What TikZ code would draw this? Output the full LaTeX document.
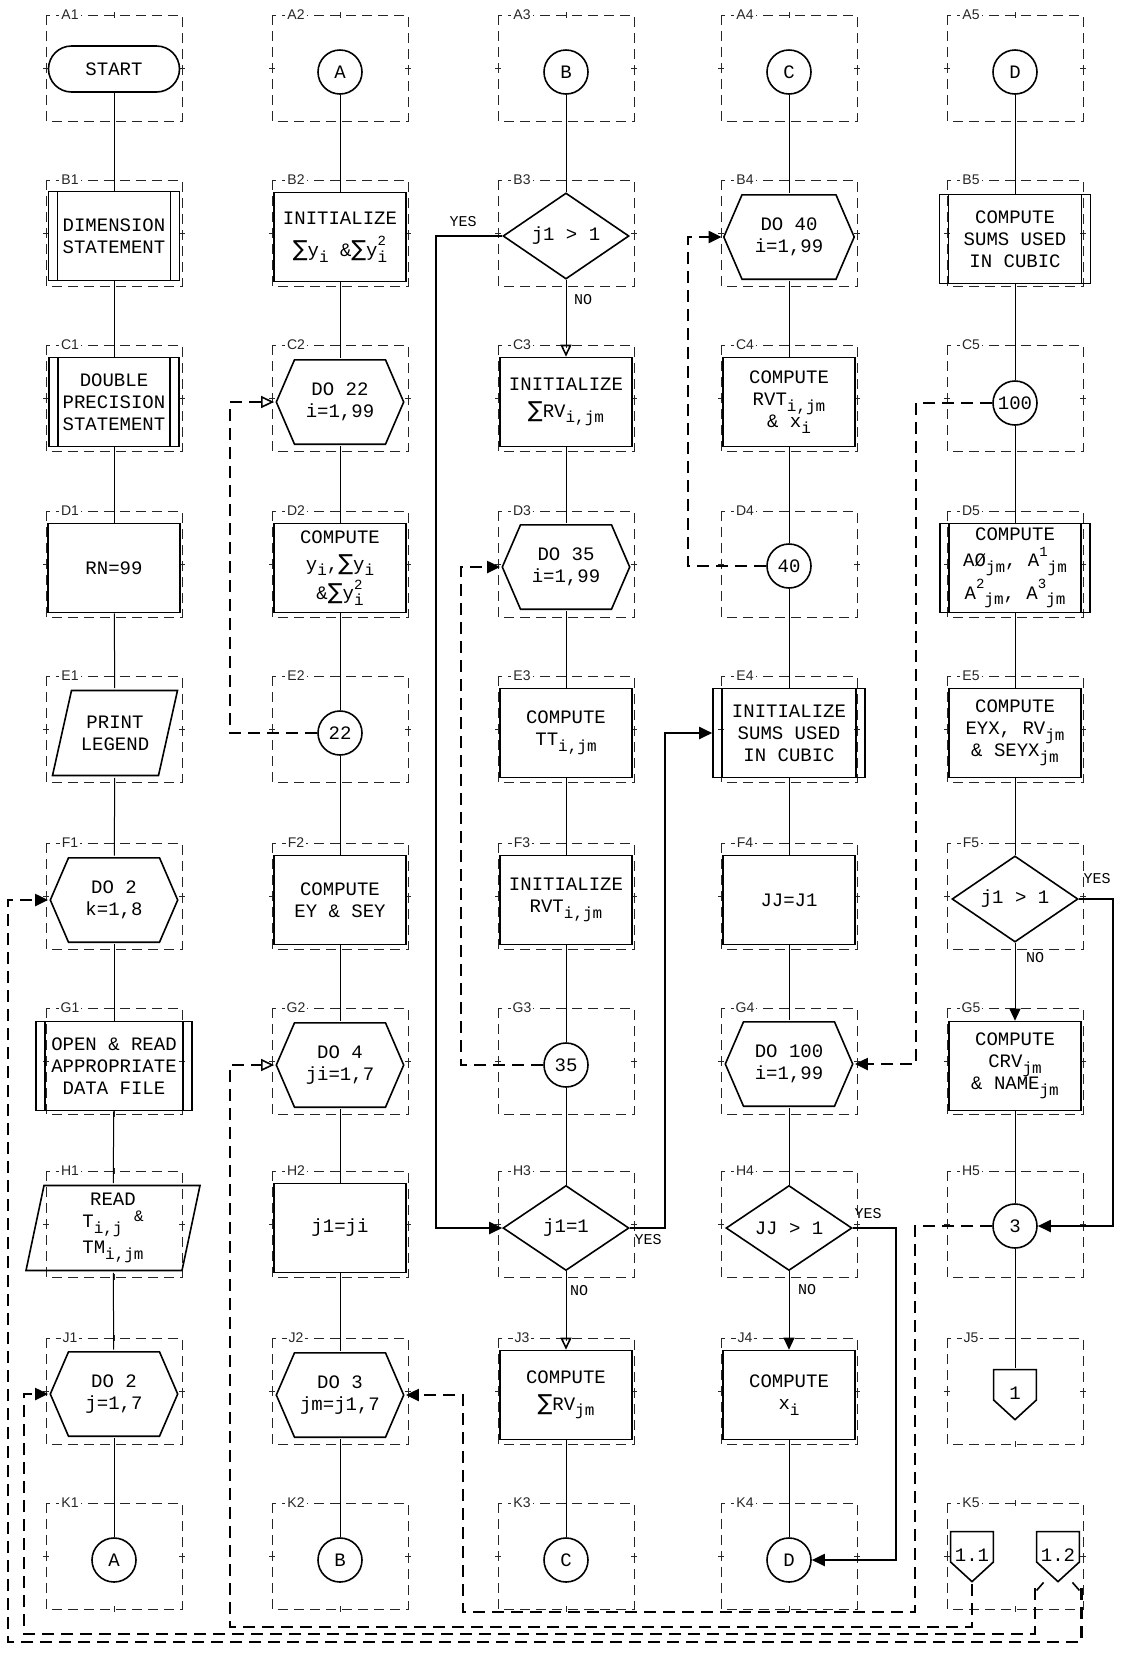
\documentclass[tikz,border=0pt]{standalone}
\usepackage{fontspec}
\newfontfamily\tw{Liberation Mono}
\newfontfamily\labf{Liberation Sans}
\newfontfamily\symf{DejaVu Sans}
\usetikzlibrary{arrows.meta,shapes.geometric,calc}
\newcommand\sbs[1]{\raisebox{-0.55ex}{\fontsize{8}{8}\selectfont #1}}
\newcommand\sps[1]{\raisebox{1.05ex}{\fontsize{7}{7}\selectfont #1}}
\newcommand\sm{{\symf\fontsize{11}{10}\selectfont ∑}}
\newcommand\ysq{y\rlap{\sps{2}}\sbs{i}}
\begin{document}
\begin{tikzpicture}[x=0.5pt,y=-0.5pt,
  txt/.style={font=\tw\fontsize{9.5}{11}\selectfont, align=center, inner sep=0pt},
  ol/.style={line width=0.8pt, line join=miter},
  box/.style={txt, draw, ol, rectangle, minimum width=66pt, minimum height=44.5pt},
  pred/.style={box, minimum width=#1, path picture={
     \draw[ol] ([xshift=4.5pt]path picture bounding box.north west) -- ([xshift=4.5pt]path picture bounding box.south west)
               ([xshift=-4.5pt]path picture bounding box.north east) -- ([xshift=-4.5pt]path picture bounding box.south east);}},
  hexa/.style={txt, rectangle, minimum width=#1, minimum height=44pt, path picture={
     \draw[ol] ([xshift=0.9pt]path picture bounding box.west)
        -- ([xshift=10pt,yshift=-0.9pt]path picture bounding box.north west)
        -- ([xshift=-10pt,yshift=-0.9pt]path picture bounding box.north east)
        -- ([xshift=-0.9pt]path picture bounding box.east)
        -- ([xshift=-10pt,yshift=0.9pt]path picture bounding box.south east)
        -- ([xshift=10pt,yshift=0.9pt]path picture bounding box.south west) -- cycle;}},
  hexa/.default=65.5pt,
  para/.style={txt, rectangle, minimum height=44.5pt, path picture={
     \draw[ol] ([xshift=1pt,yshift=1pt]path picture bounding box.south west)
        -- ([xshift=#1,yshift=-1pt]path picture bounding box.north west)
        -- ([xshift=-1pt,yshift=-1pt]path picture bounding box.north east)
        -- ([xshift=-#1,yshift=1pt]path picture bounding box.south east) -- cycle;}},
  offp/.style={txt, rectangle, minimum width=23pt, minimum height=27pt, path picture={
     \draw[ol] ([xshift=0.8pt,yshift=-0.8pt]path picture bounding box.north west)
        -- ([xshift=-0.8pt,yshift=-0.8pt]path picture bounding box.north east)
        -- ([xshift=-0.8pt,yshift=-2.5pt]path picture bounding box.east)
        -- ([yshift=1.2pt]path picture bounding box.south)
        -- ([xshift=0.8pt,yshift=-2.5pt]path picture bounding box.west) -- cycle;}},
  term/.style={txt, draw, ol, rectangle, rounded corners=11.5pt, minimum width=65.5pt, minimum height=23pt},
  circ/.style={txt, draw, ol, circle, minimum size=22pt},
  dia/.style={txt, draw, ol, diamond, minimum width=63pt, minimum height=42.5pt},
  cellfr/.style={line width=0.45pt, draw=black!85, dash pattern=on 5pt off 3pt},
  flab/.style={font=\labf\fontsize{7}{7}\selectfont, fill=white, text=black!85, inner sep=1pt},
  conn/.style={line width=0.5pt},
  noarr/.style={conn, -{Triangle[length=6pt,width=5.5pt]}},
  noopen/.style={conn, -{Triangle[open,length=6pt,width=5.5pt,line width=0.8pt]}},
  yesl/.style={line width=1pt, -{Triangle[length=6.5pt,width=6pt]}},
  loopl/.style={line width=1.1pt, dash pattern=on 6pt off 3.5pt, -{Triangle[length=6.5pt,width=6pt]}},
  loopo/.style={line width=1.1pt, dash pattern=on 6pt off 3.5pt, -{Triangle[open,length=6.5pt,width=6pt,line width=0.8pt]}},
  yn/.style={font=\tw\fontsize{7.5}{7.5}\selectfont, inner sep=0.5pt}
]
\useasboundingbox (0,0) rectangle (1122,1655);

% ---- cell frames ----
\foreach \c/\cx in {1/114,2/340,3/566,4/789,5/1015} {
 \foreach \r/\ry in {A/72,B/237,C/402,D/568,E/733,F/900,G/1065,H/1228,J/1395,K/1560} {
   \draw[cellfr] (\cx-68,\ry-57) rectangle (\cx+68,\ry+49);
   \draw[cellfr,solid] (\cx-71,\ry-4) -- (\cx-65,\ry-4) (\cx+65,\ry-4) -- (\cx+71,\ry-4)
        (\cx,\ry-60) -- (\cx,\ry-54) (\cx,\ry+46) -- (\cx,\ry+52);
   \node[flab] (L\r\c) at (\cx-44,\ry-57) {\r\c};
 }
}

% ---- column 1 ----
\node[term] (A1) at (114,69) {START};
\node[pred=65.5pt] (B1) at (114,236) {DIMENSION\\STATEMENT};
\node[pred=65pt] (C1) at (114,402) {DOUBLE\\PRECISION\\STATEMENT};
\node[box] (D1) at (114,568) {RN=99};
\node[para=10.5pt, minimum width=64.5pt] (E1) at (115,733) {PRINT\\LEGEND};
\node[hexa] (F1) at (114,900) {DO 2\\k=1,8};
\node[pred=78pt] (G1) at (114,1066) {OPEN \& READ\\APPROPRIATE\\DATA FILE};
\node[para=10pt, minimum width=89pt] (H1) at (113,1228) {READ\\T\sbs{i,j}\ \raisebox{0.6ex}{\fontsize{8}{8}\selectfont\&}\\[2pt]TM\sbs{i,jm}};
\node[hexa] (J1) at (114,1394) {DO 2\\j=1,7};
\node[circ] (K1) at (114,1560) {A};

% ---- column 2 ----
\node[circ] (A2) at (340,72) {A};
\node[box] (B2) at (340,237) {INITIALIZE\\[5pt]\sm y\sbs{i} \&\sm\ysq};
\node[hexa] (C2) at (340,402) {DO 22\\i=1,99};
\node[box] (D2) at (340,568) {COMPUTE\\[2.5pt]y\sbs{i},\sm y\sbs{i}\\[1pt]\&\sm\ysq};
\node[circ] (E2) at (340,733) {22};
\node[box] (F2) at (340,900) {COMPUTE\\EY \& SEY};
\node[hexa] (G2) at (340,1065) {DO 4\\ji=1,7};
\node[box] (H2) at (340,1228) {j1=ji};
\node[hexa] (J2) at (340,1395) {DO 3\\jm=j1,7};
\node[circ] (K2) at (340,1560) {B};

% ---- column 3 ----
\node[circ] (A3) at (566,72) {B};
\node[dia] (B3) at (566,236) {j1 > 1};
\node[box] (C3) at (566,402) {INITIALIZE\\[2.5pt]\sm RV\sbs{i,jm}};
\node[hexa] (D3) at (566,567) {DO 35\\i=1,99};
\node[box] (E3) at (566,733) {COMPUTE\\TT\sbs{i,jm}};
\node[box] (F3) at (566,900) {INITIALIZE\\RVT\sbs{i,jm}};
\node[circ] (G3) at (566,1065) {35};
\node[dia] (H3) at (566,1228) {j1=1};
\node[box] (J3) at (566,1395) {COMPUTE\\[2.5pt]\sm RV\sbs{jm}};
\node[circ] (K3) at (566,1560) {C};

% ---- column 4 ----
\node[circ] (A4) at (789,72) {C};
\node[hexa=67pt] (B4) at (789,237) {DO 40\\i=1,99};
\node[box] (C4) at (789,402) {COMPUTE\\RVT\sbs{i,jm}\\\& x\sbs{i}};
\node[circ] (D4) at (789,566) {40};
\node[pred=76pt] (E4) at (789,733) {INITIALIZE\\SUMS USED\\IN CUBIC};
\node[box] (F4) at (789,900) {JJ=J1};
\node[hexa] (G4) at (789,1064) {DO 100\\i=1,99};
\node[dia] (H4) at (789,1228) {JJ > 1};
\node[box] (J4) at (789,1395) {COMPUTE\\x\sbs{i}};
\node[circ] (K4) at (789,1560) {D};

% ---- column 5 ----
\node[circ] (A5) at (1015,72) {D};
\node[pred=75.5pt] (B5) at (1015,239) {COMPUTE\\SUMS USED\\IN CUBIC};
\node[circ] (C5) at (1015,403) {100};
\node[pred=75pt] (D5) at (1015,568) {COMPUTE\\[2pt]AØ\sbs{jm}, A\sps{1}\sbs{jm}\\[1pt]A\sps{2}\sbs{jm}, A\sps{3}\sbs{jm}};
\node[box] (E5) at (1015,733) {COMPUTE\\EYX, RV\sbs{jm}\\\& SEYX\sbs{jm}};
\node[dia] (F5) at (1015,899) {j1 > 1};
\node[box] (G5) at (1015,1066) {COMPUTE\\CRV\sbs{jm}\\\& NAME\sbs{jm}};
\node[circ] (H5) at (1015,1226) {3};
\node[offp] (J5) at (1015,1395) {\raisebox{1.5pt}{1}};
\node[offp] (P11) at (972,1557) {\raisebox{1.5pt}{1.1}};
\node[offp] (P12) at (1058,1557) {\raisebox{1.5pt}{1.2}};

% ---- straight flow lines ----
\foreach \a/\b in {A1/B1,B1/C1,C1/D1,D1/E1,E1/F1,F1/G1,G1/H1,H1/J1,J1/K1,
                   A2/B2,B2/C2,C2/D2,D2/E2,E2/F2,F2/G2,G2/H2,H2/J2,J2/K2,
                   A3/B3,C3/D3,D3/E3,E3/F3,F3/G3,G3/H3,J3/K3,
                   A4/B4,B4/C4,C4/D4,D4/E4,E4/F4,F4/G4,G4/H4,J4/K4,
                   A5/B5,B5/C5,C5/D5,D5/E5,E5/F5,G5/H5,H5/J5}
  \draw[conn] (\a) -- (\b);

% ---- NO branches ----
\draw[noopen] (B3) -- (C3);
\draw[noopen] (H3) -- (J3);
\draw[noarr] (H4) -- (J4);
\draw[noarr] (F5) -- (G5);
\node[yn] (nB3) at (583,300) {NO};
\node[yn] (nH3) at (579,1291) {NO};
\node[yn] (nH4) at (807,1290) {NO};
\node[yn] (nF5) at (1035,958) {NO};

% ---- YES branches ----
\draw[yesl] (B3.west) -- ++(-66,0) |- (H3.west);
\draw[yesl] (H3.east) -- ++(35,0) |- (E4.west);
\draw[yesl] (H4.east) -- ++(43,0) |- (K4.east);
\draw[yesl] (F5.east) -- ++(34,0) |- (H5.east);
\node[yn] (yB3) at (463,222) {YES};
\node[yn] (yH3) at (648,1240) {YES};
\node[yn] (yH4) at (868,1214) {YES};
\node[yn] (yF5) at (1097,879) {YES};

% ---- loop returns ----
\draw[loopo] (E2.west) -- ++(-87,0) |- (C2.west);
\draw[loopl] (G3.west) -- ++(-82,0) |- (D3.west);
\draw[loopl] (D4.west) -- ++(-78,0) |- (B4.west);
\draw[loopl] (C5.west) -- ++(-76,0) |- (G4.east);
\coordinate (bus3) at (463,1612);
\draw[loopl] (H5.west) -- ++(-77,0) |- (bus3) |- (J2.east);
\coordinate (bus11) at (230,1627);
\draw[loopo] (P11.south) |- (bus11) |- (G2.west);
\coordinate (bus12a) at (24,1634);
\draw[loopl] ([yshift=-2pt]P12.south west) |- (bus12a) |- (J1.west);
\coordinate (bus12b) at (8,1642);
\draw[loopl] ([yshift=-2pt]P12.south east) |- (bus12b) |- (F1.west);
\draw[ol] (P12.south west) ++(2,6) -- ++(7,-8);
\draw[ol] (P12.south east) ++(-2,6) -- ++(-7,-8);
\end{tikzpicture}
\end{document}
